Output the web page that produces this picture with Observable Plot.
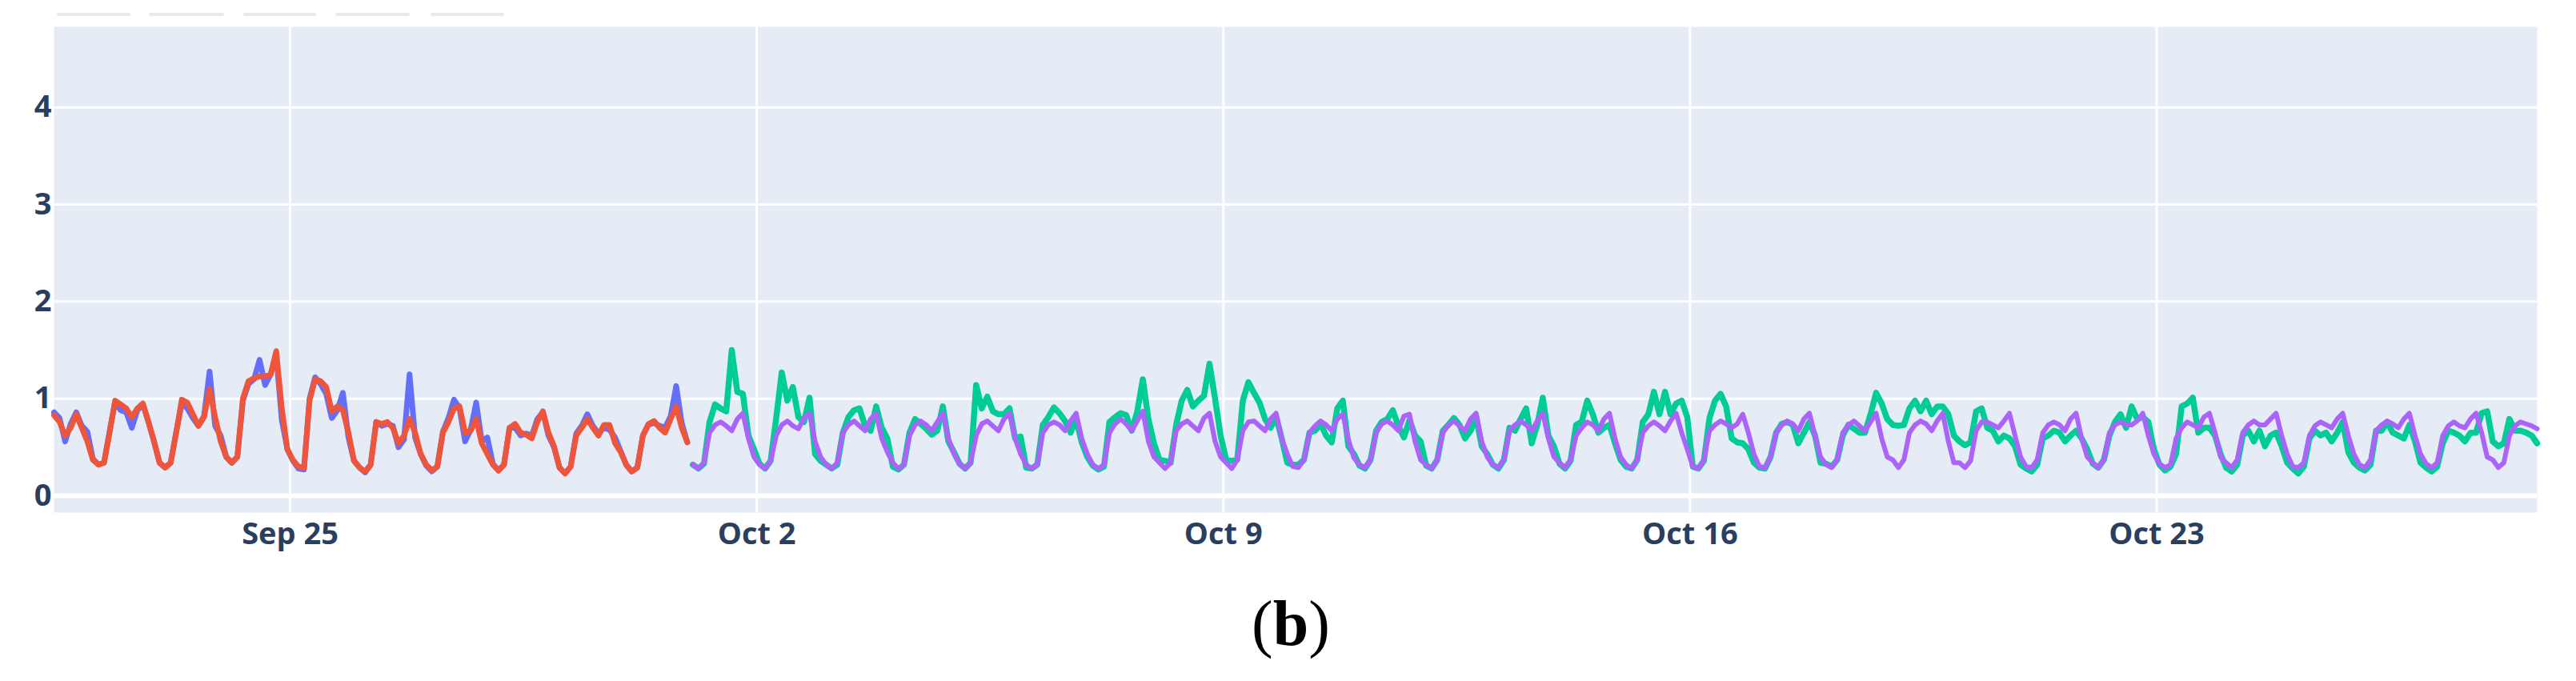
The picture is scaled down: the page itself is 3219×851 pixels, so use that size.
<!DOCTYPE html>
<html>
<head>
<meta charset="utf-8">
<script src="https://cdn.jsdelivr.net/npm/d3@7"></script>
<script src="https://cdn.jsdelivr.net/npm/@observablehq/plot@0.6"></script>
<style>
  html, body { margin: 0; padding: 0; background: #ffffff; }
  #wrap { position: relative; width: 3219px; height: 851px; overflow: hidden; }
  #chart svg { display: block; }
  .ghost { position: absolute; top: 16px; height: 4px; background: #e7e9ee; border-radius: 2px; }
  #caption { position: absolute; left: 1463px; width: 300px; top: 739px; text-align: center;
             font-family: "Liberation Serif", "Times New Roman", serif; font-size: 80px; line-height: 80px; color: #000; }
</style>
</head>
<body>
<div id="wrap">
  <div class="ghost" style="left:71px;width:92px"></div>
  <div class="ghost" style="left:186px;width:94px"></div>
  <div class="ghost" style="left:304px;width:91px"></div>
  <div class="ghost" style="left:419px;width:93px"></div>
  <div class="ghost" style="left:538px;width:92px"></div>
  <div id="chart"></div>
  <div id="caption">(<b>b</b>)</div>
</div>
<script>
// ---- data (2-hour samples) ----
const trainStart = "2023-09-21T11:00:00Z";
const testStart = "2023-10-01T01:00:00Z";
const stepHours = 2;

// blue series (Sep 21 11:00 -> Sep 30 23:00)
const trainActual = [
  0.86,0.80,0.56,0.74,0.86,0.72,0.66,
  0.38,0.32,0.34,0.66,0.97,0.88,0.86,0.70,0.88,0.94,0.76,0.56,
  0.34,0.29,0.34,0.66,0.95,0.90,0.80,0.72,0.82,1.28,0.72,0.62,
  0.40,0.34,0.40,0.98,1.15,1.20,1.40,1.14,1.25,1.45,0.78,0.48,
  0.36,0.28,0.27,1.00,1.22,1.15,1.05,0.80,0.88,1.06,0.60,0.36,
  0.29,0.24,0.32,0.76,0.72,0.74,0.72,0.50,0.58,1.25,0.60,0.43,
  0.31,0.25,0.30,0.66,0.80,0.99,0.90,0.56,0.68,0.96,0.56,0.60,
  0.33,0.26,0.32,0.70,0.70,0.62,0.64,0.62,0.79,0.86,0.62,0.50,
  0.29,0.23,0.30,0.64,0.72,0.84,0.72,0.64,0.70,0.68,0.60,0.46,
  0.32,0.25,0.29,0.62,0.73,0.75,0.72,0.70,0.82,1.13,0.75,0.55
];
// red series (Sep 21 11:00 -> Sep 30 23:00)
const trainPredicted = [
  0.83,0.76,0.62,0.70,0.84,0.70,0.56,
  0.37,0.32,0.34,0.65,0.98,0.94,0.90,0.81,0.90,0.95,0.76,0.56,
  0.34,0.29,0.34,0.65,0.99,0.96,0.84,0.72,0.81,1.10,0.81,0.56,
  0.40,0.34,0.40,1.00,1.18,1.21,1.23,1.23,1.25,1.49,0.90,0.48,
  0.37,0.30,0.29,0.98,1.20,1.18,1.12,0.87,0.92,0.88,0.65,0.36,
  0.29,0.25,0.32,0.76,0.74,0.76,0.70,0.54,0.62,0.79,0.65,0.43,
  0.32,0.26,0.30,0.65,0.76,0.90,0.92,0.65,0.67,0.79,0.54,0.43,
  0.32,0.26,0.32,0.70,0.74,0.65,0.63,0.59,0.76,0.87,0.65,0.51,
  0.29,0.23,0.30,0.62,0.70,0.79,0.70,0.62,0.73,0.73,0.54,0.45,
  0.32,0.25,0.29,0.62,0.74,0.77,0.70,0.65,0.79,0.92,0.70,0.55
];
// green series (Oct 1 01:00 -> Oct 28 17:00)
const testActual = [
  0.32,0.28,0.33,0.76,0.94,0.90,0.87,1.50,1.07,1.05,0.62,0.48,
  0.33,0.28,0.36,0.80,1.27,0.98,1.12,0.81,0.76,1.01,0.43,0.36,
  0.32,0.28,0.32,0.65,0.81,0.88,0.90,0.72,0.67,0.92,0.70,0.59,
  0.30,0.27,0.32,0.65,0.79,0.74,0.69,0.63,0.67,0.92,0.56,0.45,
  0.33,0.28,0.34,1.14,0.90,1.02,0.87,0.84,0.84,0.90,0.59,0.61,
  0.29,0.28,0.32,0.73,0.81,0.91,0.85,0.77,0.65,0.79,0.55,0.40,
  0.31,0.27,0.30,0.76,0.81,0.85,0.83,0.67,0.87,1.20,0.79,0.54,
  0.37,0.36,0.34,0.73,0.98,1.09,0.92,0.98,1.03,1.36,1.00,0.62,
  0.37,0.36,0.37,0.98,1.17,1.06,0.96,0.79,0.70,0.81,0.59,0.34,
  0.32,0.32,0.37,0.65,0.67,0.74,0.62,0.55,0.90,0.98,0.51,0.43,
  0.31,0.28,0.37,0.67,0.76,0.79,0.88,0.72,0.60,0.78,0.62,0.56,
  0.31,0.28,0.37,0.67,0.73,0.80,0.73,0.59,0.67,0.81,0.51,0.43,
  0.32,0.28,0.37,0.70,0.67,0.79,0.90,0.54,0.73,1.01,0.62,0.51,
  0.33,0.28,0.36,0.73,0.76,0.98,0.84,0.65,0.70,0.73,0.54,0.37,
  0.30,0.28,0.37,0.76,0.84,1.07,0.84,1.07,0.84,0.95,0.98,0.81,
  0.30,0.28,0.36,0.80,0.98,1.05,0.92,0.59,0.55,0.54,0.48,0.34,
  0.29,0.28,0.40,0.65,0.74,0.76,0.73,0.54,0.65,0.76,0.62,0.34,
  0.33,0.30,0.37,0.62,0.73,0.69,0.65,0.65,0.84,1.06,0.95,0.79,
  0.73,0.72,0.73,0.90,0.98,0.87,0.98,0.84,0.92,0.92,0.84,0.62,
  0.56,0.52,0.55,0.87,0.90,0.70,0.67,0.56,0.62,0.59,0.51,0.32,
  0.28,0.25,0.32,0.59,0.62,0.67,0.65,0.56,0.62,0.67,0.59,0.48,
  0.33,0.29,0.37,0.62,0.76,0.84,0.70,0.92,0.79,0.81,0.76,0.48,
  0.32,0.26,0.30,0.43,0.92,0.95,1.01,0.65,0.70,0.70,0.62,0.43,
  0.29,0.25,0.32,0.62,0.67,0.56,0.67,0.51,0.62,0.65,0.51,0.34,
  0.28,0.23,0.30,0.59,0.67,0.62,0.65,0.56,0.65,0.76,0.45,0.34,
  0.29,0.26,0.32,0.67,0.67,0.76,0.65,0.62,0.59,0.73,0.56,0.34,
  0.29,0.25,0.30,0.54,0.67,0.65,0.62,0.56,0.65,0.65,0.85,0.87,
  0.56,0.51,0.54,0.79,0.67,0.67,0.65,0.62,0.54
];
// purple series (Oct 1 01:00 -> Oct 28 17:00)
const testPredicted = [
  0.32,0.28,0.34,0.65,0.73,0.76,0.72,0.67,0.79,0.85,0.59,0.40,
  0.32,0.28,0.36,0.62,0.73,0.77,0.72,0.69,0.80,0.85,0.56,0.40,
  0.32,0.28,0.34,0.65,0.73,0.77,0.72,0.67,0.79,0.85,0.59,0.45,
  0.34,0.28,0.32,0.62,0.73,0.77,0.73,0.67,0.76,0.85,0.59,0.43,
  0.33,0.28,0.34,0.62,0.74,0.77,0.72,0.67,0.79,0.85,0.59,0.43,
  0.32,0.28,0.32,0.65,0.73,0.76,0.73,0.67,0.77,0.85,0.59,0.43,
  0.32,0.28,0.32,0.65,0.74,0.79,0.74,0.67,0.77,0.87,0.56,0.40,
  0.34,0.28,0.34,0.67,0.74,0.77,0.72,0.67,0.80,0.85,0.56,0.40,
  0.34,0.28,0.37,0.67,0.76,0.77,0.72,0.67,0.79,0.85,0.59,0.43,
  0.30,0.29,0.37,0.65,0.72,0.77,0.73,0.67,0.79,0.84,0.58,0.39,
  0.32,0.29,0.37,0.65,0.74,0.77,0.73,0.67,0.82,0.84,0.56,0.37,
  0.32,0.28,0.37,0.65,0.73,0.77,0.72,0.67,0.79,0.85,0.56,0.40,
  0.32,0.29,0.37,0.67,0.73,0.77,0.73,0.67,0.77,0.85,0.59,0.40,
  0.34,0.29,0.37,0.62,0.70,0.76,0.73,0.67,0.79,0.85,0.59,0.40,
  0.32,0.28,0.37,0.65,0.72,0.76,0.72,0.67,0.77,0.85,0.65,0.48,
  0.30,0.28,0.37,0.67,0.73,0.77,0.74,0.70,0.74,0.84,0.65,0.43,
  0.30,0.29,0.40,0.65,0.73,0.77,0.74,0.67,0.79,0.85,0.62,0.40,
  0.32,0.29,0.37,0.65,0.73,0.77,0.72,0.67,0.76,0.85,0.59,0.40,
  0.37,0.29,0.37,0.65,0.73,0.77,0.74,0.67,0.77,0.85,0.56,0.34,
  0.34,0.29,0.36,0.67,0.76,0.76,0.73,0.70,0.77,0.85,0.62,0.40,
  0.30,0.29,0.37,0.65,0.73,0.76,0.73,0.67,0.79,0.85,0.59,0.40,
  0.34,0.29,0.37,0.65,0.73,0.76,0.73,0.73,0.77,0.85,0.62,0.43,
  0.33,0.29,0.32,0.59,0.70,0.76,0.73,0.70,0.81,0.85,0.65,0.40,
  0.34,0.29,0.37,0.65,0.73,0.77,0.73,0.73,0.79,0.85,0.62,0.43,
  0.30,0.29,0.34,0.62,0.72,0.76,0.73,0.70,0.79,0.85,0.62,0.43,
  0.32,0.29,0.37,0.67,0.73,0.77,0.74,0.70,0.79,0.85,0.62,0.43,
  0.33,0.29,0.34,0.62,0.72,0.76,0.72,0.70,0.79,0.85,0.65,0.40,
  0.37,0.29,0.34,0.62,0.72,0.76,0.74,0.72,0.69
];

const xRange = ["2023-09-21T11:00:00Z", "2023-10-28T17:00:00Z"];
const xTickDates = ["2023-09-25", "2023-10-02", "2023-10-09", "2023-10-16", "2023-10-23"];
const xTickLabels = ["Sep 25", "Oct 2", "Oct 9", "Oct 16", "Oct 23"];
const yTicks = [0, 1, 2, 3, 4];
const yRange = [-0.173, 4.83];

const seriesColors = { trainActual: "#636EFA", trainPredicted: "#EF553B", testActual: "#00CC96", testPredicted: "#AB63FA" };
const seriesWidths = { trainActual: 7, trainPredicted: 7, testActual: 7.5, testPredicted: 6 };

// ---- build table ----
const H = 3600 * 1000;
function rows(name, start, values) {
  const t0 = new Date(start).getTime();
  return values.map((v, i) => ({ series: name, date: new Date(t0 + i * stepHours * H), value: v }));
}
const tables = {
  trainActual: rows("trainActual", trainStart, trainActual),
  trainPredicted: rows("trainPredicted", trainStart, trainPredicted),
  testActual: rows("testActual", testStart, testActual),
  testPredicted: rows("testPredicted", testStart, testPredicted)
};
const tickDates = xTickDates.map(d => new Date(d + "T00:00:00Z"));
const fmtX = d => xTickLabels[tickDates.findIndex(t => +t === +d)];

const lineMarks = ["trainActual", "trainPredicted", "testActual", "testPredicted"].map(k =>
  Plot.lineY(tables[k], { x: "date", y: "value", stroke: seriesColors[k], strokeWidth: seriesWidths[k],
                          strokeLinejoin: "round", strokeLinecap: "round" }));

const chart = Plot.plot({
  width: 3219,
  height: 700,
  marginLeft: 67,
  marginRight: 49,
  marginTop: 33,
  marginBottom: 60,
  style: { fontFamily: "'Open Sans', sans-serif", fontSize: "38px", fontWeight: "700", color: "#2a3f5f", background: "transparent" },
  x: { type: "utc", domain: xRange.map(d => new Date(d)) },
  y: { domain: yRange },
  marks: [
    Plot.frame({ fill: "#E5ECF6", stroke: "none" }),
    Plot.gridX(tickDates, { stroke: "#ffffff", strokeOpacity: 1, strokeWidth: 3 }),
    Plot.gridY(yTicks.filter(v => v !== 0), { stroke: "#ffffff", strokeOpacity: 1, strokeWidth: 3 }),
    Plot.ruleY([0], { stroke: "#ffffff", strokeWidth: 6 }),
    ...lineMarks,
    Plot.axisX(tickDates, { tickSize: 0, tickPadding: 13, tickFormat: fmtX, label: null }),
    Plot.axisY(yTicks, { tickSize: 0, tickPadding: 3, tickFormat: d => String(d), label: null })
  ]
});
document.getElementById("chart").appendChild(chart);
</script>
</body>
</html>
